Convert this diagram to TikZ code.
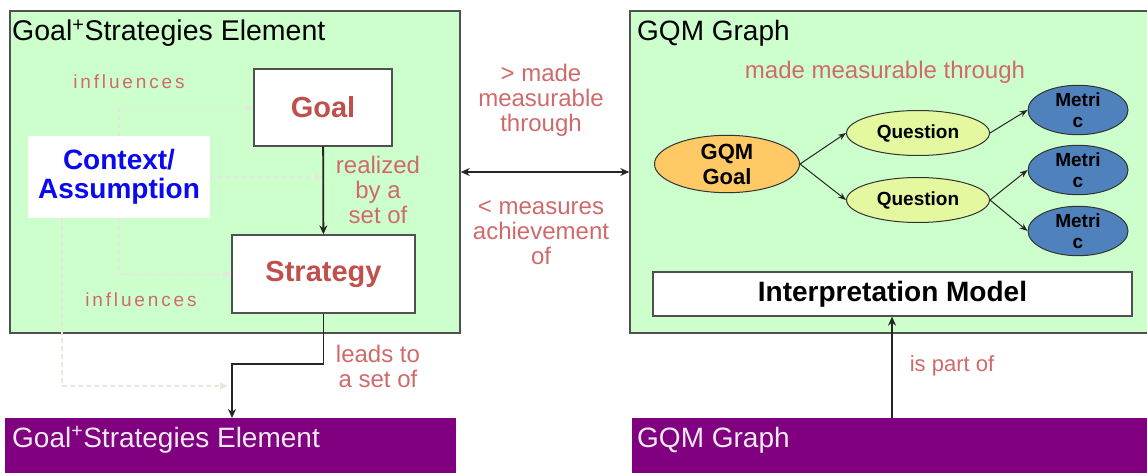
\documentclass[tikz,border=0pt]{standalone}
\usepackage{fontspec}
\setmainfont{Liberation Sans}
\newfontfamily\spacedfont[LetterSpace=15]{Liberation Sans}
\usetikzlibrary{arrows.meta,shapes.geometric}

\definecolor{panelgreen}{HTML}{CCFFCC}
\definecolor{panelline}{HTML}{505050}
\definecolor{barpurple}{HTML}{800080}
\definecolor{bartext}{HTML}{F2EAF2}
\definecolor{lblred}{HTML}{D06A6A}
\definecolor{boxred}{HTML}{C0504D}
\definecolor{ctxblue}{HTML}{0A0AEE}
\definecolor{goalorange}{HTML}{FFC966}
\definecolor{qgreen}{HTML}{E4F8A0}
\definecolor{metricblue}{HTML}{4F81BD}
\definecolor{faintline}{HTML}{E4EADA}

\newcommand{\fsz}[1]{\fontsize{#1}{#1}\selectfont}

\tikzset{
  panel/.style={draw=panelline, line width=1.5pt, fill=panelgreen, inner sep=0pt},
  bar/.style={fill=barpurple, inner sep=0pt},
  title/.style={inner sep=0pt, anchor=base west, font=\fsz{28}},
  whitebox/.style={draw=panelline, line width=1.3pt, fill=white, inner sep=0pt},
  lbl/.style={text=lblred, align=center, inner sep=0pt, font=\fontsize{24}{25}\selectfont},
  conn/.style={line width=1.8pt, draw=black!85, -{Stealth[length=9pt,width=8pt]}},
  thinconn/.style={line width=1pt, draw=black!85, -{Stealth[length=8pt,width=6pt]}},
  faint/.style={draw=faintline, line width=1.6pt, dash pattern=on 5pt off 3pt,
    -{Triangle[length=8pt,width=7pt]}},
  oval/.style={ellipse, draw=black!80, line width=1pt, inner sep=0pt, align=center},
}

\begin{document}
\begin{tikzpicture}[x=1pt,y=-1pt]
\useasboundingbox (0,0) rectangle (1147,473);
\clip (0,0) rectangle (1147,473);

% panels
\node[panel, minimum width=450pt, minimum height=322pt] (gse) at (235,172) {};
\node[panel, minimum width=530pt, minimum height=322pt] (gqm) at (895,172) {};
\node[title, font=\fsz{28.5}] (gsetitle) at (12,41) {Goal\textsuperscript{+}Strategies Element};
\node[title] (gqmtitle) at (637,41) {GQM Graph};

% bottom bars
\node[bar, minimum width=451pt, minimum height=62pt] (gsebar) at (230.5,449) {};
\node[bar, minimum width=518pt, minimum height=62pt] (gqmbar) at (891,449) {};
\node[title, text=bartext] (gsebartitle) at (12,447) {Goal\textsuperscript{+}Strategies Element};
\node[title, text=bartext] (gqmbartitle) at (637,447) {GQM Graph};

% goal and strategy
\node[whitebox, minimum width=138pt, minimum height=77pt, text=boxred,
  font=\bfseries\fsz{29}] (goal) at (323,107.5) {Goal};
\node[whitebox, minimum width=183pt, minimum height=78pt, text=boxred,
  font=\bfseries\fsz{29}] (strategy) at (323.5,274) {Strategy};

% influence lines from the context
\coordinate (ctxtop) at (119,136);
\coordinate (ctxbot) at (119,218);
\coordinate (ctxleft) at (62,218);
\coordinate (outer) at (228,386);
\draw[faint] (ctxtop) |- (goal.west);
\draw[faint] (ctxbot) |- (strategy.west);
\draw[faint] (210,177) -- (goal.south |- 0,177);
\draw[faint] (ctxleft) |- (outer);

\node[fill=white, minimum width=182pt, minimum height=82pt, inner sep=0pt,
  text=ctxblue, align=center, font=\bfseries\fontsize{28}{29}\selectfont] (ctx) at (119,177)
  {Context/\\Assumption};

\node[text=lblred, inner sep=0pt, font=\spacedfont\fsz{19}] (infl1) at (129,82) {influences};
\node[text=lblred, inner sep=0pt, font=\spacedfont\fsz{19}] (infl2) at (141,300) {influences};

% realisation of the goal
\draw[conn] (goal) -- (strategy);
\node[lbl] (realized) at (378,190) {realized\\by a\\set of};

\coordinate (gsein) at (232,418);
\draw[conn] (strategy.south) -- ++(0,50) -| (gsein);
\node[lbl] (leads) at (378,366) {leads to\\a set of};

% between the panels
\draw[conn, {Stealth[length=9pt,width=8pt]}-{Stealth[length=9pt,width=8pt]}] (gse.east) -- (gqm.west);
\node[lbl] (made) at (541,100) {> made\\measurable\\through};
\node[lbl] (measures) at (541,233) {< measures\\achievement\\of};

% GQM graph
\node[lbl] (mmt) at (885,72) {made measurable through};
\node[oval, fill=goalorange, minimum width=145pt, minimum height=54pt,
  font=\bfseries\fontsize{22}{25}\selectfont] (ggoal) at (727,164) {GQM\\Goal};
\node[oval, fill=qgreen, minimum width=143pt, minimum height=45pt,
  font=\bfseries\fsz{19}] (q1) at (918,133) {Question};
\node[oval, fill=qgreen, minimum width=143pt, minimum height=45pt,
  font=\bfseries\fsz{19}] (q2) at (918,200) {Question};
\node[oval, fill=metricblue, minimum width=100pt, minimum height=43pt,
  font=\bfseries\fontsize{19}{21}\selectfont] (m1) at (1078,110) {Metri\\c};
\node[oval, fill=metricblue, minimum width=100pt, minimum height=43pt,
  font=\bfseries\fontsize{19}{21}\selectfont] (m2) at (1078,170) {Metri\\c};
\node[oval, fill=metricblue, minimum width=100pt, minimum height=42pt,
  font=\bfseries\fontsize{19}{21}\selectfont] (m3) at (1078,231) {Metri\\c};

\draw[thinconn] (ggoal.east) -- (q1.west);
\draw[thinconn] (ggoal.east) -- (q2.west);
\draw[thinconn] (q1.east) -- (m1.west);
\draw[thinconn] (q2.east) -- (m2.west);
\draw[thinconn] (q2.east) -- (m3.west);

\node[whitebox, minimum width=479pt, minimum height=44pt,
  font=\bfseries\fsz{28}] (interp) at (892.5,294) {Interpretation Model};

\coordinate (gqmout) at (892,418);
\draw[conn] (gqmout) -- (interp.south -| gqmout);
\node[lbl, font=\fsz{22}] (partof) at (952,366) {is part of};
\end{tikzpicture}
\end{document}
